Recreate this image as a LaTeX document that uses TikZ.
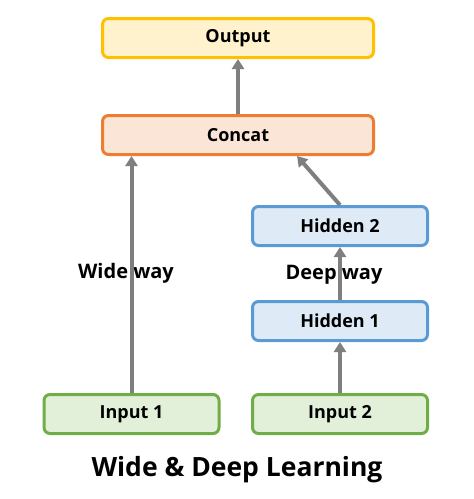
\documentclass[tikz,border=0pt]{standalone}
\usepackage{fontspec}
\setmainfont{Open Sans}
\usepackage{tikz}
\usetikzlibrary{calc,arrows.meta}

\definecolor{outFill}{HTML}{FFF2CC}
\definecolor{outDraw}{HTML}{FFC000}
\definecolor{catFill}{HTML}{FBE5D6}
\definecolor{catDraw}{HTML}{ED7D31}
\definecolor{hidFill}{HTML}{DEEBF7}
\definecolor{hidDraw}{HTML}{5B9BD5}
\definecolor{inFill}{HTML}{E2F0D9}
\definecolor{inDraw}{HTML}{70AD47}
\definecolor{arrGray}{HTML}{7F7F7F}

\tikzset{
	layer/.style={rectangle, rounded corners=6pt, line width=3pt,
		minimum height=39pt, font=\bfseries\fontsize{18}{22}\selectfont},
	wide/.style={layer, minimum width=271pt},
	narrow/.style={layer, minimum width=175pt},
	flow/.style={draw=arrGray, line width=4pt,
		-{Triangle[width=12pt,length=10pt]}},
	waylabel/.style={font=\bfseries\fontsize{20}{24}\selectfont}
}

\begin{document}
\begin{tikzpicture}[x=1pt,y=-1pt]

	\useasboundingbox (0,0) rectangle (474,499);

	\coordinate (pOut) at (238,38);
	\coordinate (pCat) at (238,135);
	\coordinate (pHidB) at (340,226);
	\coordinate (pHidA) at (340,321);
	\coordinate (pInA) at (131.5,414);
	\coordinate (pInB) at (340,414);

	\node[wide, fill=outFill, draw=outDraw] (Output) at (pOut) {Output};
	\node[wide, fill=catFill, draw=catDraw] (Concat) at (pCat) {Concat};
	\node[narrow, fill=hidFill, draw=hidDraw] (Hidden2) at (pHidB) {Hidden 2};
	\node[narrow, fill=hidFill, draw=hidDraw] (Hidden1) at (pHidA) {Hidden 1};
	\node[narrow, fill=inFill, draw=inDraw] (Input1) at (pInA) {Input 1};
	\node[narrow, fill=inFill, draw=inDraw] (Input2) at (pInB) {Input 2};

	\node[waylabel] (wideLbl) at (126,273) {Wide way};
	\node[waylabel] (deepLbl) at (334,275) {Deep way};

	\coordinate (deepIn) at (297,156);

	\draw[flow] (Concat.north) -- (Output.south);
	\draw[flow] (Input1.north) -- (Input1.north |- Concat.south);
	\draw[flow] (Input2.north) -- (Hidden1.south);
	\draw[flow] (Hidden1.north) -- (Hidden2.south);
	\draw[flow] (Hidden2.north) -- (deepIn);

	\node[font=\bfseries\fontsize{26.5}{32}\selectfont] (title) at (237,470)
		{Wide \& Deep Learning};

\end{tikzpicture}
\end{document}
